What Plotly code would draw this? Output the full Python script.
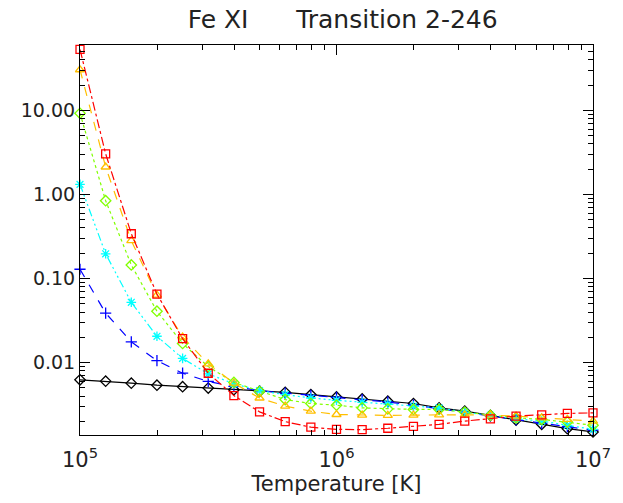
import math
import plotly.graph_objects as go

# log10 temperature grid (K)
log_t = [5.0, 5.1, 5.2, 5.3, 5.4, 5.5, 5.6, 5.7, 5.8, 5.9, 6.0,
         6.1, 6.2, 6.3, 6.4, 6.5, 6.6, 6.7, 6.8, 6.9, 7.0]
temperature = [10 ** v for v in log_t]

red_vals = [53, 3.04, 0.341, 0.0654, 0.0193, 0.00748, 0.00406, 0.0026, 0.00199,
            0.00171, 0.00161, 0.00160, 0.00166, 0.00175, 0.00185, 0.00202,
            0.00215, 0.00232, 0.0024, 0.00249, 0.00253]
orange_vals = [30.4, 2.12, 0.282, 0.0637, 0.0202, 0.0097, 0.0057, 0.0038, 0.00304,
               0.00265, 0.00242, 0.00238, 0.00236, 0.00238, 0.0024, 0.0024,
               0.00238, 0.00232, 0.00221, 0.00212, 0.00202]
green_vals = [9.22, 0.843, 0.145, 0.0409, 0.0169, 0.00897, 0.00582, 0.00456, 0.00364,
              0.00327, 0.00312, 0.0029, 0.00282, 0.00278, 0.00278, 0.00258,
              0.00236, 0.00221, 0.00212, 0.00197, 0.0018]
cyan_vals = [1.32, 0.197, 0.0522, 0.0206, 0.01124, 0.00736, 0.00561, 0.00465, 0.00417,
             0.0038, 0.00357, 0.00338, 0.00323, 0.00304, 0.0029, 0.00258,
             0.00236, 0.00215, 0.00202, 0.0018, 0.00161]
blue_vals = [0.129, 0.0388, 0.0177, 0.01056, 0.0075, 0.00598, 0.00522, 0.00465, 0.00435,
             0.00409, 0.00388, 0.00364, 0.00341, 0.00312, 0.00282, 0.00258,
             0.00232, 0.00208, 0.0019, 0.00173, 0.00158]
black_vals = [0.00626, 0.00603, 0.00571, 0.0054, 0.00518, 0.00499, 0.00477, 0.00456,
              0.00444, 0.00417, 0.00391, 0.0037, 0.00348, 0.00327, 0.0029, 0.00265,
              0.00236, 0.00208, 0.00185, 0.00164, 0.0015]

x_tick_vals = [1e5, 1e6, 1e7]
x_tick_text = ["10<sup>5</sup>", "10<sup>6</sup>", "10<sup>7</sup>"]
y_tick_vals = [0.01, 0.1, 1, 10]
y_tick_text = ["0.01", "0.10", "1.00", "10.00"]

X_RANGE = [4.99999, 7.00001]
Y_RANGE = [-2.86, 1.777]

x_minor = [m * 10 ** e for e in (5, 6) for m in range(2, 10)]
y_minor = [m * 10.0 ** e for e in (-3, -2, -1, 0, 1) for m in range(2, 10)
           if Y_RANGE[0] < math.log10(m * 10.0 ** e) < Y_RANGE[1]]

series = [
    (black_vals, "black", "solid", "diamond-open"),
    (blue_vals, "#0000ff", "dash", "cross-thin-open"),
    (cyan_vals, "#00ffff", "8px,3px,2px,3px,2px,3px,2px,3px", "asterisk-open"),
    (green_vals, "#80ff00", "dot", "diamond-open"),
    (orange_vals, "#ffbf00", "dash", "triangle-up-open"),
    (red_vals, "#ff0000", "dashdot", "square-open"),
]

fig = go.Figure()
for vals, col, dash, sym in series:
    fig.add_trace(go.Scatter(
        x=temperature, y=vals, mode="lines+markers", cliponaxis=False,
        line=dict(color=col, width=1.2, dash=dash),
        marker=dict(symbol=sym, size=8, color=col, line=dict(color=col, width=1.3)),
        showlegend=False,
    ))
# empty trace to carry the minor-tick overlay axes
fig.add_trace(go.Scatter(x=[], y=[], xaxis="x2", yaxis="y2", showlegend=False))

font = dict(family="DejaVu Sans", color="#222222")
fig.update_layout(
    width=623, height=503,
    margin=dict(l=80, r=18, t=45, b=64),
    paper_bgcolor="white", plot_bgcolor="white",
    title=dict(text="Fe XI      Transition 2-246", x=0.55, xanchor="center",
               y=0.962, yanchor="middle", font=dict(size=25, **font)),
    font=dict(size=19, **font),
    xaxis=dict(
        type="log", range=X_RANGE,
        tickvals=x_tick_vals, ticktext=x_tick_text,
        ticks="inside", ticklen=10, tickcolor="black", tickwidth=1,
        showline=True, linecolor="black", linewidth=1, mirror="ticks",
        showgrid=False, zeroline=False, ticklabelstandoff=6,
        ticklabeloverflow="allow",
        title=dict(text="Temperature [K]", standoff=4, font=dict(size=21, **font)),
        tickfont=dict(size=21, **font),
    ),
    yaxis=dict(
        type="log", range=Y_RANGE,
        tickvals=y_tick_vals, ticktext=y_tick_text,
        ticks="inside", ticklen=10, tickcolor="black", tickwidth=1,
        showline=True, linecolor="black", linewidth=1, mirror="ticks",
        showgrid=False, zeroline=False,
        tickfont=dict(size=19, **font),
    ),
    xaxis2=dict(
        type="log", range=X_RANGE, overlaying="x", side="bottom",
        tickvals=x_minor, showticklabels=False,
        ticks="inside", ticklen=5, tickcolor="black", tickwidth=1,
        showline=False, mirror="ticks", showgrid=False, zeroline=False,
    ),
    yaxis2=dict(
        type="log", range=Y_RANGE, overlaying="y", side="left",
        tickvals=y_minor, showticklabels=False,
        ticks="inside", ticklen=5, tickcolor="black", tickwidth=1,
        showline=False, mirror="ticks", showgrid=False, zeroline=False,
    ),
)
fig.write_html("out.html")
